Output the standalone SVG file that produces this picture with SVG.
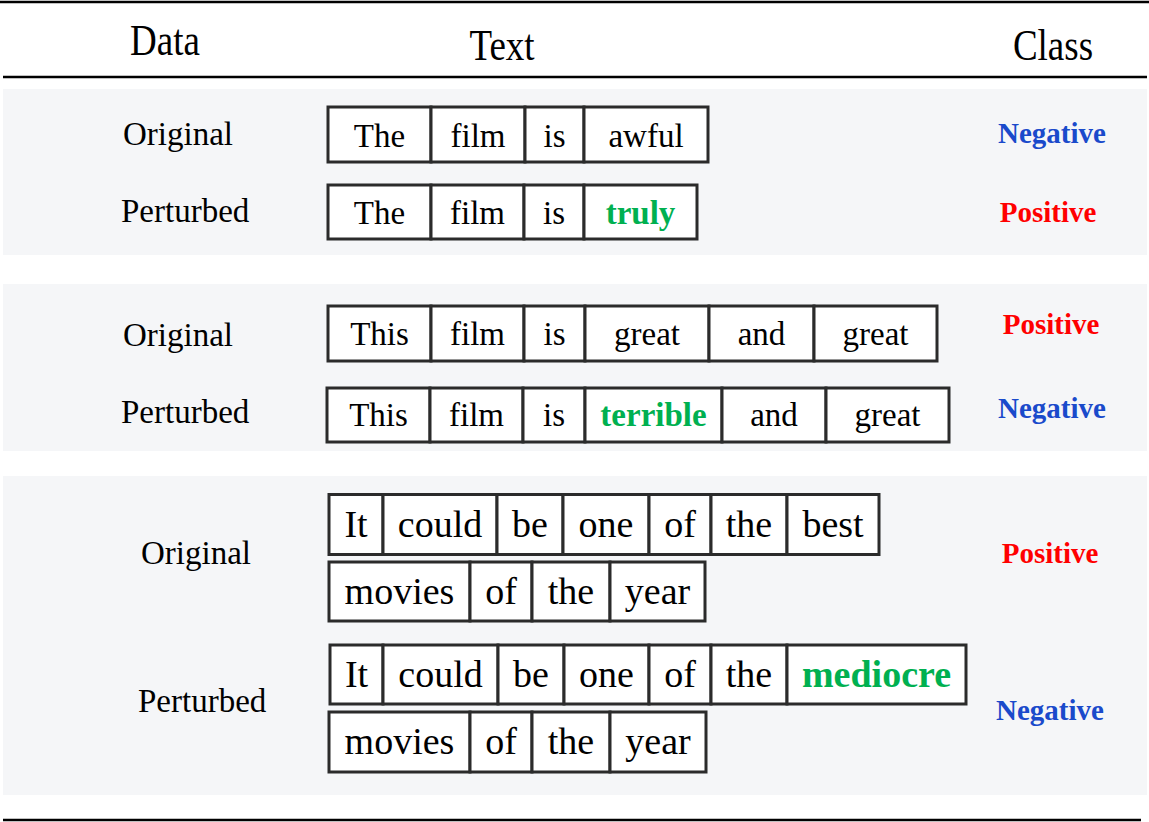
<svg xmlns="http://www.w3.org/2000/svg" width="1149" height="822" viewBox="0 0 1149 822">
<style>
.band{fill:#f5f6f8}
.rule{stroke:#000;stroke-width:2.5}
.c{fill:#fff;stroke:#2b2b2b;stroke-width:3}
.w{font-family:"Liberation Serif","Times New Roman",serif;font-size:33px;text-anchor:middle;fill:#000}
.w3{font-size:38px}
.hl{font-weight:bold;fill:#00b050}
.lbl{font-family:"Liberation Serif","Times New Roman",serif;font-size:33px;fill:#000}
.hd{font-family:"Liberation Serif","Times New Roman",serif;font-size:37px;text-anchor:middle;fill:#000}
.cls{font-family:"Liberation Serif","Times New Roman",serif;font-size:29px;font-weight:bold;text-anchor:middle}
.neg{fill:#1a4acb}
.pos{fill:#ff0000}
</style>
<rect width="1149" height="822" fill="#fff"/>
<g id="bands">
<rect class="band" x="3" y="89" width="1144" height="166"/>
<rect class="band" x="3" y="284" width="1144" height="167"/>
<rect class="band" x="3" y="476" width="1144" height="319"/>
</g>
<g id="rules">
<line class="rule" x1="0" y1="2" x2="1149" y2="2"/>
<line class="rule" x1="3" y1="77" x2="1147" y2="77"/>
<line class="rule" x1="3" y1="820" x2="1141" y2="820"/>
</g>
<g id="header">
<text class="hd" transform="translate(165,55) scale(1,1.17)">Data</text>
<text class="hd" transform="translate(502,60) scale(1,1.17)">Text</text>
<text class="hd" transform="translate(1053,60) scale(1,1.17)">Class</text>
</g>
<g id="labels">
<text class="lbl" x="123" y="145">Original</text>
<text class="lbl" x="121" y="222">Perturbed</text>
<text class="lbl" x="123" y="346">Original</text>
<text class="lbl" x="121" y="423">Perturbed</text>
<text class="lbl" x="141" y="564">Original</text>
<text class="lbl" x="138" y="712">Perturbed</text>
</g>
<g id="classes">
<text class="cls neg" x="1052" y="143">Negative</text>
<text class="cls pos" x="1048" y="222">Positive</text>
<text class="cls pos" x="1051" y="334">Positive</text>
<text class="cls neg" x="1052" y="418">Negative</text>
<text class="cls pos" x="1050" y="563">Positive</text>
<text class="cls neg" x="1050" y="720">Negative</text>
</g>
<g id="row1-original">
<rect class="c" x="328" y="107" width="103" height="55"/>
<rect class="c" x="431" y="107" width="94" height="55"/>
<rect class="c" x="525" y="107" width="59" height="55"/>
<rect class="c" x="584" y="107" width="124" height="55"/>
<text class="w" x="379.5" y="147">The</text>
<text class="w" x="478" y="147">film</text>
<text class="w" x="554.5" y="147">is</text>
<text class="w" x="646" y="147">awful</text>
</g>
<g id="row1-perturbed">
<rect class="c" x="328" y="185" width="103" height="54"/>
<rect class="c" x="431" y="185" width="93" height="54"/>
<rect class="c" x="524" y="185" width="60" height="54"/>
<rect class="c" x="584" y="185" width="113" height="54"/>
<text class="w" x="379.5" y="224">The</text>
<text class="w" x="477.5" y="224">film</text>
<text class="w" x="554" y="224">is</text>
<text class="w hl" x="640.5" y="224">truly</text>
</g>
<g id="row2-original">
<rect class="c" x="328" y="306" width="103" height="55"/>
<rect class="c" x="431" y="306" width="93" height="55"/>
<rect class="c" x="524" y="306" width="61" height="55"/>
<rect class="c" x="585" y="306" width="124" height="55"/>
<rect class="c" x="709" y="306" width="105" height="55"/>
<rect class="c" x="814" y="306" width="123" height="55"/>
<text class="w" x="379.5" y="345">This</text>
<text class="w" x="477.5" y="345">film</text>
<text class="w" x="554.5" y="345">is</text>
<text class="w" x="647" y="345">great</text>
<text class="w" x="761.5" y="345">and</text>
<text class="w" x="875.5" y="345">great</text>
</g>
<g id="row2-perturbed">
<rect class="c" x="327" y="388" width="103" height="54"/>
<rect class="c" x="430" y="388" width="93" height="54"/>
<rect class="c" x="523" y="388" width="62" height="54"/>
<rect class="c" x="585" y="388" width="137" height="54"/>
<rect class="c" x="722" y="388" width="104" height="54"/>
<rect class="c" x="826" y="388" width="123" height="54"/>
<text class="w" x="378.5" y="426">This</text>
<text class="w" x="476.5" y="426">film</text>
<text class="w" x="554" y="426">is</text>
<text class="w hl" x="653.5" y="426">terrible</text>
<text class="w" x="774" y="426">and</text>
<text class="w" x="887.5" y="426">great</text>
</g>
<g id="row3-original">
<rect class="c" x="329" y="494.5" width="54" height="60"/>
<rect class="c" x="383" y="494.5" width="114" height="60"/>
<rect class="c" x="497" y="494.5" width="66" height="60"/>
<rect class="c" x="563" y="494.5" width="86" height="60"/>
<rect class="c" x="649" y="494.5" width="62" height="60"/>
<rect class="c" x="711" y="494.5" width="76" height="60"/>
<rect class="c" x="787" y="494.5" width="92" height="60"/>
<text class="w w3" x="356" y="537">It</text>
<text class="w w3" x="440" y="537">could</text>
<text class="w w3" x="530" y="537">be</text>
<text class="w w3" x="606" y="537">one</text>
<text class="w w3" x="680" y="537">of</text>
<text class="w w3" x="749" y="537">the</text>
<text class="w w3" x="833" y="537">best</text>
<rect class="c" x="329" y="562" width="141" height="59"/>
<rect class="c" x="470" y="562" width="62" height="59"/>
<rect class="c" x="532" y="562" width="78" height="59"/>
<rect class="c" x="610" y="562" width="95" height="59"/>
<text class="w w3" x="399.5" y="604">movies</text>
<text class="w w3" x="501" y="604">of</text>
<text class="w w3" x="571" y="604">the</text>
<text class="w w3" x="657.5" y="604">year</text>
</g>
<g id="row3-perturbed">
<rect class="c" x="330" y="645" width="53" height="59"/>
<rect class="c" x="383" y="645" width="115" height="59"/>
<rect class="c" x="498" y="645" width="66" height="59"/>
<rect class="c" x="564" y="645" width="85" height="59"/>
<rect class="c" x="649" y="645" width="62" height="59"/>
<rect class="c" x="711" y="645" width="76" height="59"/>
<rect class="c" x="787" y="645" width="179" height="59"/>
<text class="w w3" x="356.5" y="687">It</text>
<text class="w w3" x="440.5" y="687">could</text>
<text class="w w3" x="531" y="687">be</text>
<text class="w w3" x="606.5" y="687">one</text>
<text class="w w3" x="680" y="687">of</text>
<text class="w w3" x="749" y="687">the</text>
<text class="w w3 hl" x="876.5" y="687">mediocre</text>
<rect class="c" x="329" y="712" width="141" height="60"/>
<rect class="c" x="470" y="712" width="62" height="60"/>
<rect class="c" x="532" y="712" width="78" height="60"/>
<rect class="c" x="610" y="712" width="96" height="60"/>
<text class="w w3" x="399.5" y="754">movies</text>
<text class="w w3" x="501" y="754">of</text>
<text class="w w3" x="571" y="754">the</text>
<text class="w w3" x="658" y="754">year</text>
</g>
</svg>
